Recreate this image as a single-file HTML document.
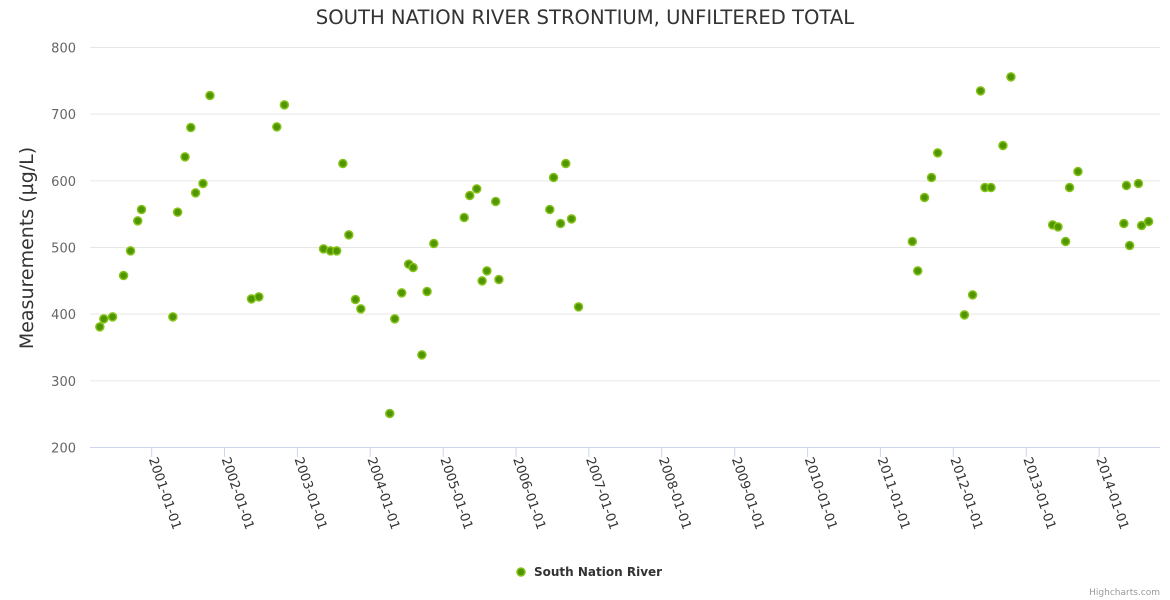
<!DOCTYPE html>
<html><head><meta charset="utf-8"><style>
body{margin:0;background:#fff;}
svg{font-family:"DejaVu Sans","Liberation Sans",sans-serif;display:block;}
</style></head><body>
<svg id="chart" width="1170" height="600" viewBox="0 0 1170 600">
<rect width="1170" height="600" fill="#fff"/>
<text x="585" y="24" text-anchor="middle" font-size="19.6" fill="#333">SOUTH NATION RIVER STRONTIUM, UNFILTERED TOTAL</text>
<text transform="translate(33,248) rotate(-90)" text-anchor="middle" font-size="19" fill="#333">Measurements (µg/L)</text>
<g id="grid"></g><g id="xaxis"></g><g id="points"></g>
<g>
<circle cx="521" cy="572" r="4" fill="#509600" stroke="#85c21a" stroke-width="1.5"/>
<text x="534" y="576" font-size="12" font-weight="bold" fill="#333">South Nation River</text>
</g>
<text x="1160" y="595" text-anchor="end" font-size="9" fill="#999">Highcharts.com</text>
</svg>
<script>
const dates=["2000-04-16","2000-05-06","2000-06-19","2000-08-13","2000-09-17","2000-10-23","2000-11-11","2001-04-17","2001-05-11","2001-06-17","2001-07-16","2001-08-09","2001-09-15","2001-10-20","2002-05-16","2002-06-22","2002-09-20","2002-10-28","2003-05-12","2003-06-16","2003-07-17","2003-08-17","2003-09-16","2003-10-19","2003-11-15","2004-04-08","2004-05-03","2004-06-07","2004-07-12","2004-08-03","2004-09-16","2004-10-12","2004-11-15","2005-04-16","2005-05-14","2005-06-18","2005-07-15","2005-08-08","2005-09-21","2005-10-07","2006-06-19","2006-07-08","2006-08-12","2006-09-07","2006-10-06","2006-11-10","2011-06-10","2011-07-07","2011-08-10","2011-09-14","2011-10-15","2012-02-26","2012-04-07","2012-05-17","2012-06-08","2012-07-08","2012-09-06","2012-10-16","2013-05-13","2013-06-09","2013-07-17","2013-08-06","2013-09-17","2014-05-05","2014-05-18","2014-06-03","2014-07-17","2014-08-02","2014-09-06"];
const values=[381,393,396,458,495,540,557,396,553,636,680,582,596,728,423,426,681,714,498,495,495,626,519,422,408,251,393,432,475,470,339,434,506,545,578,588,450,465,569,452,557,605,536,626,543,411,509,465,575,605,642,399,429,735,590,590,653,756,534,531,509,590,614,536,593,503,596,533,539];
const yTicks=[200,300,400,500,600,700,800];
const xTickLabels=["2001-01-01","2002-01-01","2003-01-01","2004-01-01","2005-01-01","2006-01-01","2007-01-01","2008-01-01","2009-01-01","2010-01-01","2011-01-01","2012-01-01","2013-01-01","2014-01-01"];
const NS="http://www.w3.org/2000/svg";
const X0=90,X1=1160,Y200=447.5,Y800=47.5;
const t0=Date.UTC(2001,0,1);
function xs(d){const p=d.split("-");const t=Date.UTC(+p[0],+p[1]-1,+p[2]);return 151.7+(t-t0)/86400000*0.19954;}
function ys(v){return Y200+(v-200)*(Y800-Y200)/600;}
function mk(tag,attrs,parent){const e=document.createElementNS(NS,tag);for(const k in attrs)e.setAttribute(k,attrs[k]);parent.appendChild(e);return e;}
const grid=document.getElementById("grid"),xa=document.getElementById("xaxis"),pts=document.getElementById("points");
yTicks.forEach(v=>{
 if(v>200){const l=mk("line",{x1:X0,x2:X1,y1:ys(v),y2:ys(v),stroke:"#e6e6e6","stroke-width":1},grid);
 
 }
 const t=mk("text",{x:76,y:ys(v)+5,"text-anchor":"end","font-size":13,fill:"#666"},grid);
 
 
 t.textContent=v;
});
const ax=mk("line",{x1:X0,x2:X1,y1:447.5,y2:447.5,stroke:"#ccd6eb","stroke-width":1},xa);


xTickLabels.forEach(d=>{
 const x=xs(d);
 const tk=mk("line",{x1:x,x2:x,y1:447.5,y2:457,stroke:"#ccd6eb","stroke-width":1},xa);
 
 
 const t=mk("text",{transform:`translate(${x-3},459) rotate(71)`,"font-size":13,fill:"#333"},xa);
 
 
 t.textContent=d;
});
dates.forEach((d,i)=>{
 const c=mk("circle",{cx:xs(d),cy:ys(values[i]),r:4,fill:"#509600",stroke:"#85c21a","stroke-width":1.5},pts);
 
 
});
</script>
</body></html>
